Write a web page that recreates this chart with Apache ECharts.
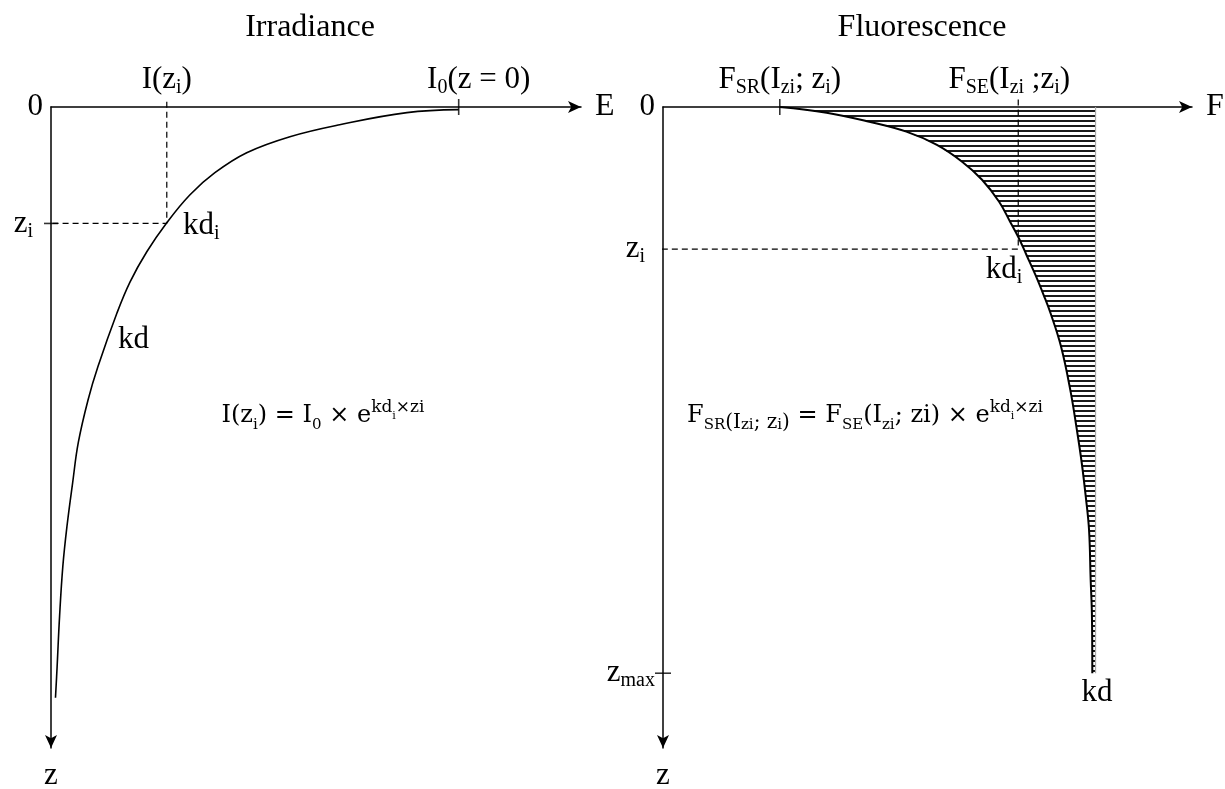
<!DOCTYPE html>
<html>
<head>
<meta charset="utf-8">
<script src="https://cdn.jsdelivr.net/npm/echarts@6/dist/echarts.min.js"></script>
<style>
  html, body { margin: 0; background: #fff; }
  #chart { width: 1225px; height: 789px; }
</style>
</head>
<body>
<div id="chart"></div>
<script>
// irradiance profile E(z), E in % of I0, z in arbitrary depth units (down = positive)
var irrE = [100, 87.3, 70.8, 58.6, 48.0, 40.2, 34.1, 28.4, 23.5, 19.4, 16.2, 11.5, 9.1, 6.7, 5.3, 3.9, 2.9, 2.1, 1.5, 1.1];
var irrZ = [0.25, 0.53, 1.66, 2.78, 4.28, 6.15, 8.21, 10.83, 13.55, 16.36, 19.26, 24.32, 27.4, 31.4, 35.2, 39.3, 43.0, 47.7, 52.4, 55.3];
// fluorescence profile F(z)
var fluoF = [28.7, 40.2, 50.7, 59.8, 67.2, 73.5, 78.4, 82.6, 85.3, 87.4, 89.3, 91.5, 93.5, 95.2, 97.8, 100.1, 101.7, 102.9, 103.9, 104.7, 105.1, 105.4, 105.5];
var fluoZ = [0, 0.53, 1.38, 2.31, 3.53, 5.12, 6.81, 8.87, 10.74, 12.24, 13.83, 15.7, 17.56, 19.26, 22.4, 26.5, 30.2, 33.3, 36.5, 39.6, 44.3, 47.4, 53.0];

// marked positions
var iZi = 28.4, i0 = 100, ziLeft = 10.9;
var fSR = 28.7, fSE = 87.3, ziRight = 13.3, zMax = 53, hatchEdge = 106.3;
var axisMaxX = 130, axisMaxZ = 60;

var serif = '"Liberation Serif", "Times New Roman", serif';
var mathFont = '"DejaVu Serif", serif';

function pairs(xs, ys) {
  return xs.map(function (x, i) { return [x, ys[i]]; });
}

// horizontal hatch pattern
var hatch = document.createElement('canvas');
hatch.width = 8;
hatch.height = 5;
var hc = hatch.getContext('2d');
hc.fillStyle = '#1a1a1a';
hc.fillRect(0, 0, 8, 2);

var richLbl = {
  m: { fontFamily: serif, fontSize: 31, color: '#000', lineHeight: 36 },
  s: { fontFamily: serif, fontSize: 20, color: '#000', lineHeight: 16, verticalAlign: 'bottom' },
  g: { width: 10 },
  g2: { width: 40 },
  g3: { width: 18 }
};
var richMath = {
  m: { fontFamily: mathFont, fontSize: 24, color: '#000', lineHeight: 34 },
  t: { fontFamily: mathFont, fontSize: 20, color: '#000', lineHeight: 28, verticalAlign: 'bottom' },
  s: { fontFamily: mathFont, fontSize: 15, color: '#000', lineHeight: 14, verticalAlign: 'bottom' },
  p: { fontFamily: mathFont, fontSize: 17, color: '#000', lineHeight: 14, verticalAlign: 'top' },
  ps: { fontFamily: mathFont, fontSize: 11, color: '#000' }
};

function xAxisFor(grid, name, vals, fmt) {
  return {
    gridIndex: grid, type: 'value', position: 'top', min: 0, max: axisMaxX,
    name: name, nameLocation: 'end', nameGap: 14,
    nameTextStyle: { fontFamily: serif, fontSize: 32, color: '#000', verticalAlign: 'middle' },
    axisLine: { show: true, onZero: false, symbol: ['none', 'arrow'], symbolSize: [9, 13], lineStyle: { color: '#000', width: 1.5 } },
    axisTick: { show: false }, splitLine: { show: false },
    axisLabel: { show: true, customValues: vals, formatter: fmt, rich: richLbl, margin: 9 }
  };
}
function yAxisFor(grid, vals, fmt) {
  // inverse axis: the start symbol sits at the bottom end
  return {
    gridIndex: grid, type: 'value', inverse: true, min: 0, max: axisMaxZ,
    name: 'z', nameLocation: 'end', nameGap: 28,
    nameTextStyle: { fontFamily: serif, fontSize: 31, color: '#000', verticalAlign: 'middle' },
    axisLine: { show: true, onZero: false, symbol: ['arrow', 'none'], symbolSize: [9, 13], lineStyle: { color: '#000', width: 1.5 } },
    axisTick: { show: false }, splitLine: { show: false },
    axisLabel: { show: true, customValues: vals, formatter: fmt, rich: richLbl, margin: 8 }
  };
}

var chart = echarts.init(document.getElementById('chart'));
chart.setOption({
  backgroundColor: '#fff',
  animation: false,
  grid: [
    { left: 51, top: 107, width: 530, height: 641, outerBoundsMode: 'none' },
    { left: 663, top: 107, width: 529, height: 641, outerBoundsMode: 'none' }
  ],
  xAxis: [
    xAxisFor(0, 'E', [iZi, i0], function (v) {
      return v === iZi ? '{m|I(z}{s|i}{m|)}' : '{g2|}{m|I}{s|0}{m|(z = 0)}';
    }),
    xAxisFor(1, 'F', [fSR, fSE], function (v) {
      return v === fSR ? '{m|F}{s|SR}{m|(I}{s|zi}{m|; z}{s|i}{m|)}' : '{m|F}{s|SE}{m|(I}{s|zi}{m| ;z}{s|i}{m|)}{g3|}';
    })
  ],
  yAxis: [
    yAxisFor(0, [0, ziLeft], function (v) {
      return v === 0 ? '{m|0}' : '{m|z}{s|i}{g|}';
    }),
    yAxisFor(1, [0, ziRight, zMax], function (v) {
      if (v === 0) return '{m|0}';
      return v === ziRight ? '{m|z}{s|i}{g|}' : '{m|z}{s|max}';
    })
  ],
  graphic: [
    { type: 'text', x: 310, y: 28, style: { text: 'Irradiance', font: '32px ' + serif, fill: '#000', align: 'center', verticalAlign: 'middle' } },
    { type: 'text', x: 922, y: 28, style: { text: 'Fluorescence', font: '32px ' + serif, fill: '#000', align: 'center', verticalAlign: 'middle' } },
    { type: 'text', x: 183, y: 226, style: { text: '{m|kd}{s|i}', rich: richLbl, align: 'left', verticalAlign: 'middle' } },
    { type: 'text', x: 118, y: 340, style: { text: '{m|kd}', rich: richLbl, align: 'left', verticalAlign: 'middle' } },
    { type: 'text', x: 1004, y: 270, style: { text: '{m|kd}{s|i}', rich: richLbl, align: 'center', verticalAlign: 'middle' } },
    { type: 'text', x: 1097, y: 693, style: { text: '{m|kd}', rich: richLbl, align: 'center', verticalAlign: 'middle' } },
    { type: 'text', x: 323, y: 416, style: { text: '{m|I(z}{s|i}{m|) = I}{s|0}{m| × e}{p|kd}{ps|i}{p|×zi}', rich: richMath, align: 'center', verticalAlign: 'middle' } },
    { type: 'text', x: 865, y: 416, style: { text: '{m|F}{s|SR}{t|(I}{s|zi}{t|; z}{s|i}{t|)}{m| = F}{s|SE}{m|(I}{s|zi}{m|; zi) × e}{p|kd}{ps|i}{p|×zi}', rich: richMath, align: 'center', verticalAlign: 'middle' } }
  ],
  series: [
    {
      type: 'line', xAxisIndex: 0, yAxisIndex: 0, data: pairs(irrE, irrZ),
      smooth: 0.4, showSymbol: false, lineStyle: { color: '#000', width: 1.6 }
    },
    {
      type: 'line', xAxisIndex: 0, yAxisIndex: 0, clip: false,
      data: [[iZi, -0.5], [iZi, ziLeft], [-2, ziLeft]],
      showSymbol: false, lineStyle: { color: '#000', width: 1.2, type: [6, 4] }
    },
    {
      type: 'scatter', xAxisIndex: 0, yAxisIndex: 0, symbol: 'rect', silent: true,
      data: [{ value: [i0, 0], symbolSize: [1.6, 16] }, { value: [0, ziLeft], symbolSize: [14, 1.6] }],
      itemStyle: { color: '#000' }
    },
    {
      type: 'custom', xAxisIndex: 1, yAxisIndex: 1, data: [[hatchEdge, 0]],
      renderItem: function (params, api) {
        var pts = pairs(fluoF, fluoZ).map(function (p) { return api.coord(p); });
        pts.push(api.coord([hatchEdge, fluoZ[fluoZ.length - 1]]));
        pts.push(api.coord([hatchEdge, 0]));
        return { type: 'polygon', shape: { points: pts }, style: { fill: { image: hatch, repeat: 'repeat' }, stroke: null } };
      }
    },
    {
      type: 'line', xAxisIndex: 1, yAxisIndex: 1,
      data: [[hatchEdge, 0], [hatchEdge, fluoZ[fluoZ.length - 1]]],
      showSymbol: false, lineStyle: { color: '#aaa', width: 1.2 }
    },
    {
      type: 'line', xAxisIndex: 1, yAxisIndex: 1, data: pairs(fluoF, fluoZ),
      smooth: 0.4, showSymbol: false, lineStyle: { color: '#000', width: 2 }
    },
    {
      type: 'line', xAxisIndex: 1, yAxisIndex: 1, clip: false,
      data: [[fSE, -0.7], [fSE, ziRight], [-0.8, ziRight]],
      showSymbol: false, lineStyle: { color: '#000', width: 1.2, type: [6, 4] }
    },
    {
      type: 'scatter', xAxisIndex: 1, yAxisIndex: 1, symbol: 'rect', silent: true,
      data: [{ value: [fSR, 0], symbolSize: [1.6, 16] }, { value: [0, zMax], symbolSize: [16, 1.6] }],
      itemStyle: { color: '#000' }
    }
  ]
});
</script>
</body>
</html>
